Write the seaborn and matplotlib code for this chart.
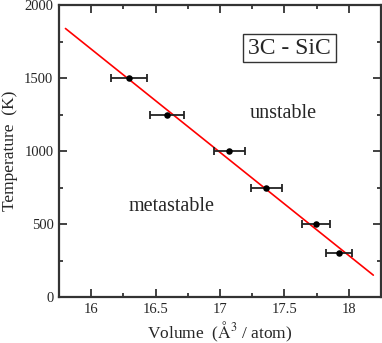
import matplotlib
matplotlib.use("Agg")
import matplotlib.pyplot as plt
import pandas as pd
import seaborn as sns
from matplotlib.patches import Rectangle
from matplotlib.ticker import MultipleLocator

# data
volume = [16.29, 16.59, 17.07, 17.36, 17.745, 17.925]
temperature = [1500, 1250, 1000, 750, 500, 300]
volume_err = [0.14, 0.13, 0.12, 0.12, 0.11, 0.10]

fit_volume = [15.80, 18.19]
fit_temperature = [1840, 150]

x_ticks = [16, 16.5, 17, 17.5, 18]
x_tick_labels = ["16", "16.5", "17", "17.5", "18"]

sns.set_style("ticks")
plt.rcParams["font.family"] = ["Liberation Serif", "DejaVu Serif"]
plt.rcParams["mathtext.fontset"] = "stix"

points = pd.DataFrame({"volume": volume, "temperature": temperature})
fit = pd.DataFrame({"volume": fit_volume, "temperature": fit_temperature})

fig = plt.figure(figsize=(3.82, 3.43), dpi=100)
ax = fig.add_axes([0.1545, 0.134, 0.843, 0.851])

sns.lineplot(data=fit, x="volume", y="temperature", color="red", lw=1.2, ax=ax)
ax.errorbar(volume, temperature, xerr=volume_err, fmt="none", ecolor="#222222",
            elinewidth=1.3, capsize=3, capthick=1.3, zorder=3)
sns.scatterplot(data=points, x="volume", y="temperature", color="black", s=22,
                edgecolor="black", linewidth=0, zorder=4, ax=ax)

ax.set_xlim(15.75, 18.25)
ax.set_ylim(0, 2000)
ax.set_xticks(x_ticks)
ax.set_xticklabels(x_tick_labels)
ax.xaxis.set_minor_locator(MultipleLocator(0.25))
ax.yaxis.set_major_locator(MultipleLocator(500))
ax.yaxis.set_minor_locator(MultipleLocator(250))

ax.tick_params(which="both", direction="in", top=True, right=True,
               color="#333333", width=1.3, labelsize=10.5)
ax.tick_params(which="major", length=6, pad=4)
ax.tick_params(which="minor", length=3)
for spine in ax.spines.values():
    spine.set_linewidth(1.6)
    spine.set_color("#333333")

ax.set_xlabel("Volume  ($\\mathrm{\\AA}^3$ / atom)", fontsize=12.5)
ax.set_ylabel("Temperature  (K)", fontsize=12.5)
ax.xaxis.set_label_coords(0.5, -0.078)
ax.yaxis.set_label_coords(-0.128, 0.5)

# label box in the upper right
ax.add_patch(Rectangle((0.571, 0.805), 0.289, 0.096, transform=ax.transAxes,
                       facecolor="white", edgecolor="#333333", lw=1.0, zorder=5))
ax.text(0.716, 0.851, "3C - SiC", fontsize=17, ha="center", va="center",
        transform=ax.transAxes, zorder=6)
ax.text(17.49, 1260, "unstable", fontsize=14.5, ha="center", va="center")
ax.text(16.626, 623, "metastable", fontsize=14.5, ha="center", va="center")

fig.savefig("out.png", dpi=100)
